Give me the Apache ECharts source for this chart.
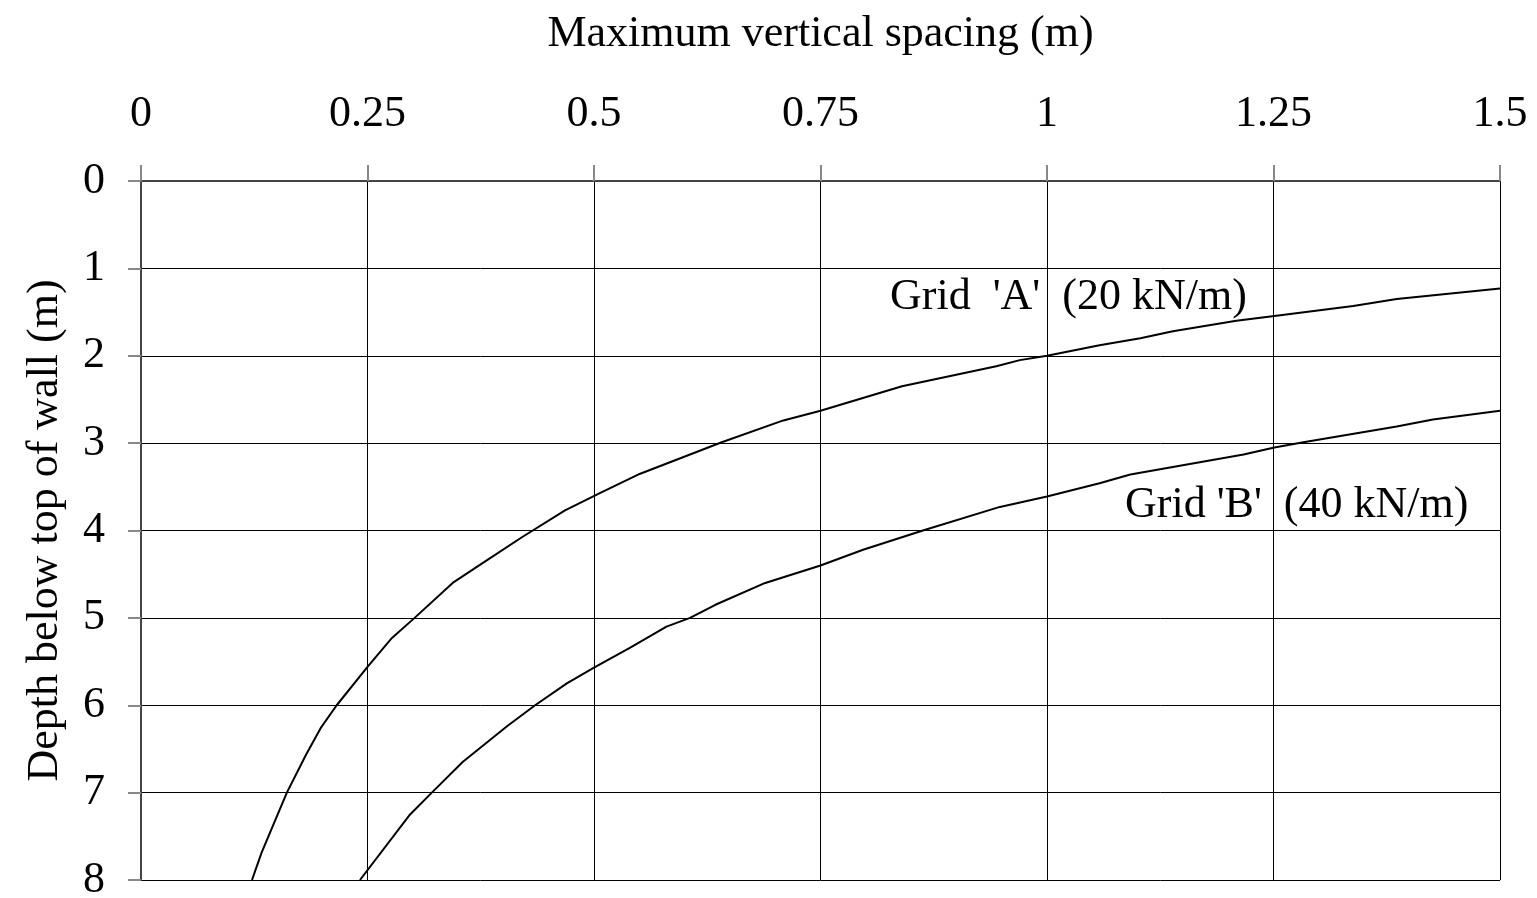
<!DOCTYPE html>
<html>
<head>
<meta charset="utf-8">
<script src="https://cdn.jsdelivr.net/npm/echarts@6/dist/echarts.min.js"></script>
<style>
html,body{margin:0;padding:0;background:#fff;}
#chart{width:1537px;height:898px;}
</style>
</head>
<body>
<div id="chart"></div>
<script>
// Grid 'A' (20 kN/m): maximum vertical spacing (m) vs depth (m)
var spacingA = [0.1225, 0.133, 0.161, 0.182, 0.199, 0.216, 0.25, 0.277, 0.302, 0.344, 0.382, 0.42, 0.468, 0.507, 0.551, 0.641, 0.709, 0.75, 0.84, 0.944, 0.97, 1.0, 1.058, 1.103, 1.139, 1.209, 1.251, 1.338, 1.386, 1.5];
var depthA   = [8.0,    7.69,  7.0,   6.57,  6.25,  6.0,   5.56, 5.23,  5.0,   4.6,   4.34,  4.08, 3.77,  3.57,  3.35,  2.99,  2.74,  2.63, 2.35, 2.12,  2.05, 2.0, 1.88,  1.80,  1.72,  1.60,  1.545, 1.43,  1.35,  1.23];
// Grid 'B' (40 kN/m)
var spacingB = [0.2417, 0.297, 0.321, 0.355, 0.404, 0.435, 0.470, 0.5,  0.540, 0.58, 0.606, 0.634, 0.689, 0.75, 0.797, 0.863, 0.948, 1.0,  1.058, 1.092, 1.217, 1.251, 1.283, 1.386, 1.426, 1.5];
var depthB   = [8.0,    7.25,  7.0,   6.65,  6.24,  6.0,   5.75,  5.57, 5.34,  5.1,  5.0,   4.85,  4.6,   4.4,  4.22,  4.0,   3.73,  3.61, 3.46,  3.36,  3.13,  3.05,  2.99,  2.81,  2.73,  2.63];

var xTitle = 'Maximum vertical spacing (m)';
var yTitle = 'Depth below top of wall (m)';
var labelA = "Grid  'A'  (20 kN/m)";
var labelB = "Grid 'B'  (40 kN/m)";

function pairs(xs, ys) { return xs.map(function (x, i) { return [x, ys[i]]; }); }

var FONT = '"Liberation Serif", "Times New Roman", serif';
var chart = echarts.init(document.getElementById('chart'), null, {renderer: 'canvas'});
chart.setOption({
  backgroundColor: '#ffffff',
  animation: false,
  grid: {left: 141, top: 181, right: 37, bottom: 18, containLabel: false, outerBoundsMode: 'none'},
  xAxis: {
    type: 'value', position: 'top', min: 0, max: 1.5, interval: 0.25,
    name: xTitle, nameLocation: 'middle', nameGap: 125,
    nameTextStyle: {fontFamily: FONT, fontSize: 44, color: '#000'},
    axisLine: {show: true, lineStyle: {color: '#444', width: 2}},
    axisTick: {show: true, length: 16, lineStyle: {color: '#888', width: 2}},
    axisLabel: {margin: 45, fontFamily: FONT, fontSize: 44, color: '#000'},
    splitLine: {show: true, lineStyle: {color: '#000', width: 1}}
  },
  yAxis: {
    type: 'value', inverse: true, min: 0, max: 8, interval: 1,
    name: yTitle, nameLocation: 'middle', nameGap: 74, nameRotate: 90,
    nameTextStyle: {fontFamily: FONT, fontSize: 44, color: '#000'},
    axisLine: {show: true, lineStyle: {color: '#444', width: 2}},
    axisTick: {show: true, length: 13, lineStyle: {color: '#888', width: 2}},
    axisLabel: {margin: 36, fontFamily: FONT, fontSize: 44, color: '#000'},
    splitLine: {show: true, lineStyle: {color: '#000', width: 1}}
  },
  series: [
    {type: 'line', name: labelA, data: pairs(spacingA, depthA), showSymbol: false, symbol: 'none',
     lineStyle: {color: '#000', width: 2}, z: 5},
    {type: 'line', name: labelB, data: pairs(spacingB, depthB), showSymbol: false, symbol: 'none',
     lineStyle: {color: '#000', width: 2}, z: 5}
  ],
  graphic: [
    {type: 'text', left: 890, top: 275, z: 10,
     style: {text: labelA, font: '44px ' + FONT, fill: '#000'}},
    {type: 'text', left: 1125, top: 483, z: 10,
     style: {text: labelB, font: '44px ' + FONT, fill: '#000'}}
  ]
});
</script>
</body>
</html>
